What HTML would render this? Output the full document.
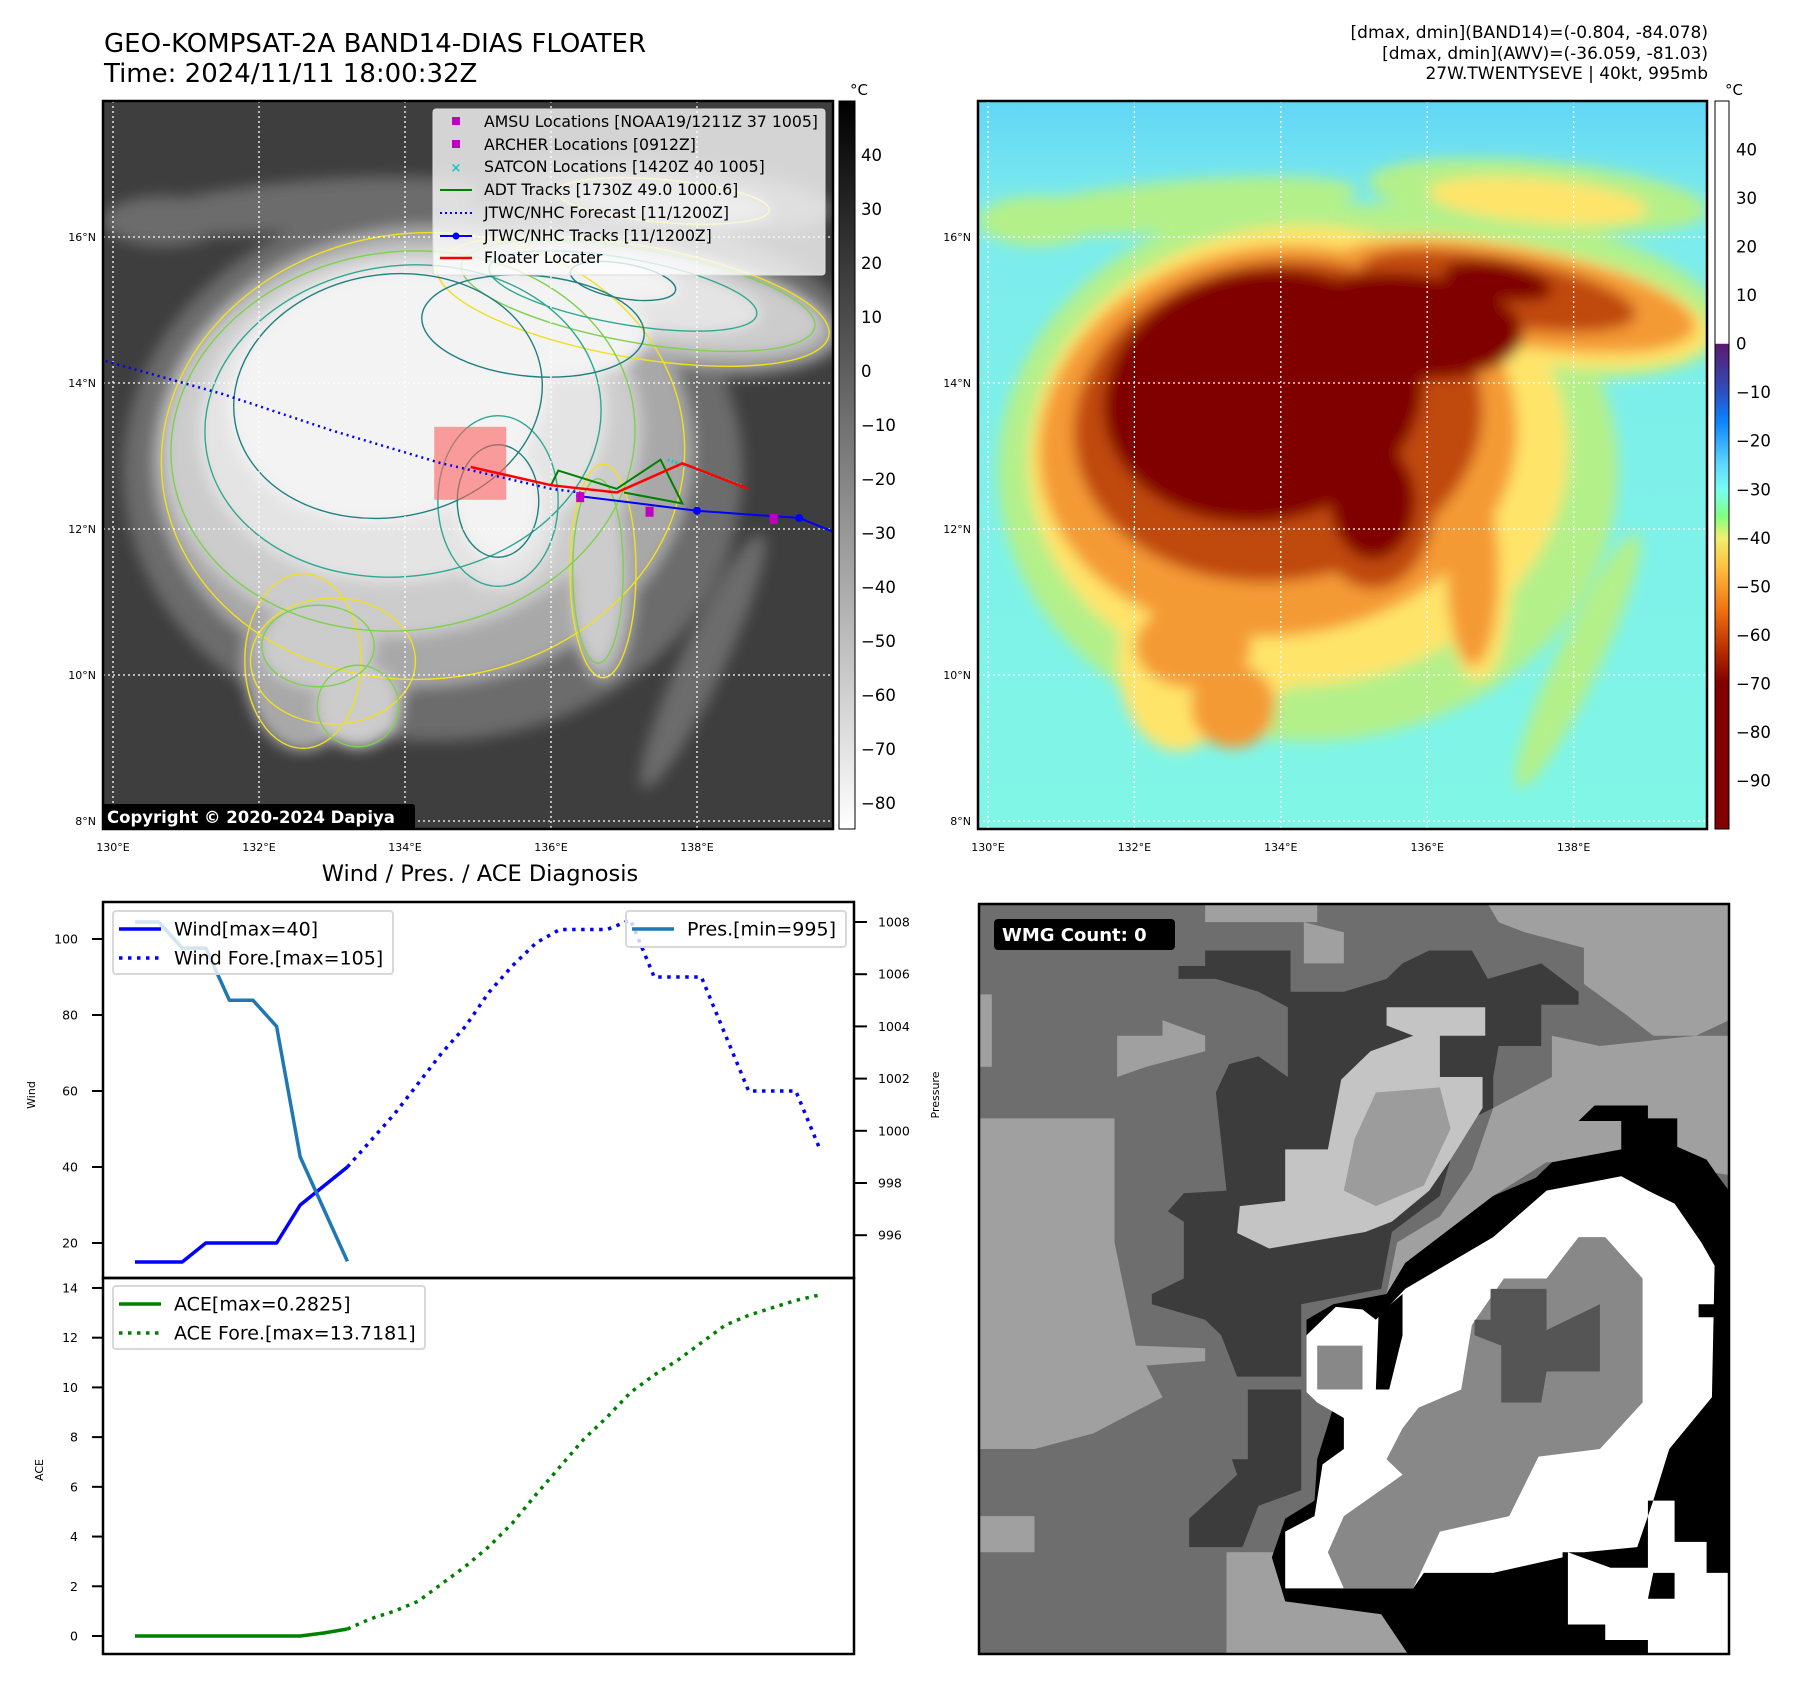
<!DOCTYPE html>
<html><head><meta charset="utf-8"><style>
html,body{margin:0;padding:0;background:#fff;}
svg{display:block;font-family:"DejaVu Sans","Liberation Sans",sans-serif;}
</style></head><body>
<svg id="root" width="1797" height="1690" viewBox="0 0 1797 1690" xmlns="http://www.w3.org/2000/svg">
<defs>
 <filter id="blur8" x="-20%" y="-20%" width="140%" height="140%"><feGaussianBlur stdDeviation="7"/></filter>
 <clipPath id="clipL"><rect x="103" y="101" width="730" height="728"/></clipPath>
 <clipPath id="clipR"><rect x="978" y="101" width="729" height="728"/></clipPath>
 <clipPath id="clipW"><rect x="979" y="904" width="750" height="750"/></clipPath>
 <linearGradient id="cbL" x1="0" y1="0" x2="0" y2="1"><stop offset="0" stop-color="#000"/><stop offset="1" stop-color="#fff"/></linearGradient>
 <linearGradient id="cbR" x1="0" y1="0" x2="0" y2="1">
  <stop offset="0" stop-color="#fff"/><stop offset="0.333" stop-color="#fff"/>
  <stop offset="0.334" stop-color="#5c1a6e"/><stop offset="0.4" stop-color="#2c50c0"/>
  <stop offset="0.44" stop-color="#0a84ff"/><stop offset="0.5" stop-color="#60d8ff"/>
  <stop offset="0.535" stop-color="#78fff0"/><stop offset="0.57" stop-color="#80ff80"/>
  <stop offset="0.6" stop-color="#f0f070"/><stop offset="0.64" stop-color="#ffc040"/>
  <stop offset="0.7" stop-color="#f07010"/><stop offset="0.76" stop-color="#b02800"/>
  <stop offset="0.8" stop-color="#800000"/><stop offset="1" stop-color="#800000"/>
 </linearGradient>
 <linearGradient id="rbg" x1="0" y1="0" x2="0" y2="1"><stop offset="0" stop-color="#62d6f6"/><stop offset="0.15" stop-color="#7cecec"/><stop offset="1" stop-color="#80f6e6"/></linearGradient>
</defs>

<text x="104" y="52" font-size="26" fill="#000">GEO-KOMPSAT-2A BAND14-DIAS FLOATER</text>
<text x="104" y="82" font-size="26" fill="#000">Time: 2024/11/11 18:00:32Z</text>
<g font-size="17" text-anchor="end" fill="#000">
 <text x="1708" y="38">[dmax, dmin](BAND14)=(-0.804, -84.078)</text>
 <text x="1708" y="59">[dmax, dmin](AWV)=(-36.059, -81.03)</text>
 <text x="1708" y="79">27W.TWENTYSEVE | 40kt, 995mb</text>
</g>

<!-- left map -->
<g id="mapL" clip-path="url(#clipL)">
 <rect x="103" y="101" width="730" height="728" fill="#3e3e3e"/>
 <g id="blobsL" filter="url(#blur8)"></g>
 <g id="contL" fill="none" stroke-width="1.4"></g>
 <g id="gridL" stroke="#fff" stroke-width="1.3" stroke-dasharray="2,3"></g>
 <g id="tracks"></g>
</g>
<rect x="103" y="101" width="730" height="728" fill="none" stroke="#000" stroke-width="2.5"/>
<g>
 <rect x="433" y="109" width="392" height="166" rx="3" fill="#fff" fill-opacity="0.78" stroke="#ddd"/>
 <rect x="452" y="117" width="8" height="8" fill="#c000c0"/>
 <rect x="452" y="140" width="8" height="8" fill="#c000c0"/>
 <text x="456" y="172" font-size="13" fill="#20c0c0" text-anchor="middle" font-weight="bold">×</text>
 <line x1="440" y1="190" x2="472" y2="190" stroke="#008000" stroke-width="2"/>
 <line x1="440" y1="213" x2="472" y2="213" stroke="#0000ff" stroke-width="2" stroke-dasharray="2,3"/>
 <line x1="440" y1="236" x2="472" y2="236" stroke="#0000ff" stroke-width="2"/><circle cx="456" cy="236" r="3.5" fill="#0000ff"/>
 <line x1="440" y1="258" x2="472" y2="258" stroke="#ff0000" stroke-width="2.5"/>
 <g font-size="15.7" fill="#000">
  <text x="484" y="127">AMSU Locations [NOAA19/1211Z 37 1005]</text>
  <text x="484" y="150">ARCHER Locations [0912Z]</text>
  <text x="484" y="172">SATCON Locations [1420Z 40 1005]</text>
  <text x="484" y="195">ADT Tracks [1730Z 49.0 1000.6]</text>
  <text x="484" y="218">JTWC/NHC Forecast [11/1200Z]</text>
  <text x="484" y="241">JTWC/NHC Tracks [11/1200Z]</text>
  <text x="484" y="263">Floater Locater</text>
 </g>
</g>
<g>
 <rect x="102" y="804" width="313" height="26" rx="3" fill="#000"/>
 <text x="107" y="823" font-size="16.5" font-weight="bold" fill="#fff">Copyright © 2020-2024 Dapiya</text>
</g>
<rect x="839" y="101" width="16" height="728" fill="url(#cbL)" stroke="#000" stroke-width="1"/>
<text x="850" y="95" font-size="15">°C</text>
<g id="cbLticks" font-size="16.5"></g>

<!-- right map -->
<g id="mapR" clip-path="url(#clipR)">
 <rect x="978" y="101" width="729" height="728" fill="url(#rbg)"/>
 <g id="blobsR" filter="url(#blur8)"></g>
 <g id="gridR" stroke="#fff" stroke-width="1.3" stroke-dasharray="2,3"></g>
</g>
<rect x="978" y="101" width="729" height="728" fill="none" stroke="#000" stroke-width="2.5"/>
<rect x="1715" y="101" width="14" height="728" fill="url(#cbR)" stroke="#000" stroke-width="1"/>
<text x="1725" y="95" font-size="15">°C</text>
<g id="cbRticks" font-size="16.5"></g>
<g id="axisLabels" font-size="11"></g>

<!-- diagnosis chart -->
<text x="480" y="881" font-size="22.5" text-anchor="middle">Wind / Pres. / ACE Diagnosis</text>
<g id="diag"></g>

<!-- WMG panel -->
<g clip-path="url(#clipW)">
<svg x="979" y="904" width="750" height="750" viewBox="36 45 1406 1452" preserveAspectRatio="none">
 <rect x="36" y="45" width="1406" height="1452" fill="#6e6e6e"/>
 <polygon fill="#a0a0a0" points="36,460 290,460 290,700 330,900 380,1000 250,1070 140,1100 36,1100"/>
 <polygon fill="#a0a0a0" points="36,220 60,220 60,360 36,360"/>
 <polygon fill="#a0a0a0" points="295,300 380,300 380,270 460,300 460,330 350,360 295,380"/>
 <polygon fill="#a0a0a0" points="460,45 670,45 670,80 460,80"/>
 <polygon fill="#a0a0a0" points="645,80 720,100 720,160 645,160"/>
 <polygon fill="#a0a0a0" points="990,45 1442,45 1442,270 1380,300 1300,300 1250,260 1170,200 1170,130 1060,100 1010,80"/>
 <polygon fill="#a0a0a0" points="500,1300 840,1300 840,1497 500,1497"/>
 <polygon fill="#a0a0a0" points="330,900 460,905 460,930 330,940"/>
 <polygon fill="#a0a0a0" points="800,800 820,700 900,650 960,560 1000,440 1110,380 1110,300 1200,320 1380,300 1442,300 1442,570 1300,545 1100,545 1000,610 835,740 835,800"/>
 <polygon fill="#a0a0a0" points="36,1230 140,1230 140,1300 36,1300"/>
 <polygon fill="#3c3c3c" points="410,165 460,165 460,135 620,135 620,215 720,215 800,190 830,160 880,135 960,135 990,190 1090,160 1160,215 1160,240 1090,240 1090,320 1010,320 1000,380 1000,440 960,460 920,540 900,610 810,680 790,790 640,820 640,960 520,960 490,880 460,850 360,820 360,800 420,770 420,660 390,640 420,605 500,600 480,410 505,355 560,340 615,380 615,245 560,215 480,190 410,190"/>
 <polygon fill="#3c3c3c" points="540,985 640,985 640,1180 560,1210 530,1290 430,1290 430,1235 520,1150 510,1120 540,1120"/>
 <polygon fill="#c4c4c4" points="800,245 985,245 985,300 900,300 900,380 980,380 980,440 920,540 880,600 810,660 760,680 580,712 520,682 525,630 610,620 610,520 690,520 715,385 770,330 850,300 800,280"/>
 <polygon fill="#9c9c9c" points="780,410 900,400 920,480 870,590 780,630 720,600 740,500"/>
 <polygon fill="#000" points="835,740 1000,610 1080,575 1110,545 1240,520 1240,465 1160,465 1190,435 1290,435 1290,460 1345,460 1345,515 1400,540 1420,570 1442,600 1442,1497 840,1497 790,1420 610,1395 585,1310 610,1235 665,1200 670,1120 700,1020 650,990 650,850 700,820 800,800"/>
 <polygon fill="#fff" points="650,880 705,825 755,830 780,850 835,790 1000,690 1100,600 1240,572 1290,600 1340,625 1390,700 1415,745 1410,1000 1330,1100 1300,1200 1270,1290 1170,1300 1140,1300 1140,1440 1210,1440 1210,1470 1290,1470 1290,1497 1442,1497 1442,1340 1400,1340 1400,1280 1340,1280 1340,1200 1290,1200 1290,1330 1220,1330 1140,1300 1080,1300 1080,1180 1130,1180 1130,1310 1000,1340 870,1340 850,1370 610,1370 610,1260 665,1230 680,1130 720,1100 720,1040 670,1010 650,990"/>
 <polygon fill="#888" points="860,1020 940,985 960,860 1020,770 1100,770 1160,690 1210,690 1280,770 1280,1010 1200,1100 1085,1115 1030,1230 900,1260 850,1370 720,1370 690,1300 720,1230 830,1150 800,1120 830,1060"/>
 <polygon fill="#888" points="670,900 755,900 755,985 670,985"/>
 <polygon fill="#555" points="995,790 1100,790 1100,870 1200,820 1200,950 1100,950 1090,1010 1015,1010 1015,900 965,880 965,850 995,850"/>
 <polygon fill="#000" points="785,840 830,800 830,880 805,985 780,985"/>
 <polygon fill="#000" points="1300,1340 1340,1340 1340,1390 1290,1390"/>
 <polygon fill="#000" points="1385,820 1442,820 1442,845 1385,845"/>
</svg>
</g>
<rect x="979" y="904" width="750" height="750" fill="none" stroke="#000" stroke-width="2.5"/>
<g>
 <rect x="994" y="919" width="181" height="31" rx="4" fill="#000"/>
 <text x="1002" y="941" font-size="18" font-weight="bold" fill="#fff">WMG Count: 0</text>
</g>
</svg>

<script>
// ---------- diagnosis chart data ----------
const windObs = [15,15,15,20,20,20,20,30,35,40];
const windFore = [40,47,54,62,70,77,86,93,99,102.5,102.5,102.5,105,90,90,90,75,60,60,60,45];
const presObs = [1008,1008,1007,1007,1005,1005,1004,999,997,995];
const aceObs = [0,0,0,0,0,0,0,0,0.12,0.2825];
const aceFore = [0.2825,0.7,1.0,1.4,2.1,2.8,3.6,4.55,5.7,6.8,7.9,8.8,9.8,10.5,11.1,11.8,12.5,12.9,13.2,13.5,13.7181];
const windTicks = [20,40,60,80,100];
const presTicks = [996,998,1000,1002,1004,1006,1008];
const aceTicks = [0,2,4,6,8,10,12,14];
const lonTicks = [130,132,134,136,138];
const latTicks = [8,10,12,14,16];
const cbLTicks = [40,30,20,10,0,-10,-20,-30,-40,-50,-60,-70,-80];
const cbRTicks = [40,30,20,10,0,-10,-20,-30,-40,-50,-60,-70,-80,-90];

const NS='http://www.w3.org/2000/svg';
function mk(tag, parent, attrs){const e=document.createElementNS(NS,tag);for(const k in attrs)e.setAttribute(k,attrs[k]);parent.appendChild(e);return e;}

// scales
const xT = i => 135 + i*23.6;
const yW = v => 939 - (v-100)*3.8;
const yP = v => 922 - (v-1008)*26.1;
const yA = v => 1636 - v*24.86;
const fx = i => xT(9+i);

const diag = document.getElementById('diag');
let f1 = mk('rect', diag, {x:103,y:902,width:751,height:376,fill:'none',stroke:'#000','stroke-width':2.5});


let f2 = mk('rect', diag, {x:103,y:1278,width:751,height:376,fill:'none',stroke:'#000','stroke-width':2.5});



windTicks.forEach(v=>{
  const y=yW(v);
  const t=mk('line',diag,{x1:92,y1:y,x2:103,y2:y,stroke:'#000','stroke-width':2});
  
  
  const l=mk('text',diag,{x:78,y:y+4.5,'font-size':12.5,'text-anchor':'end'});
  l.textContent=v;
  
  
});
presTicks.forEach(v=>{
  const y=yP(v);
  const t=mk('line',diag,{x1:854,y1:y,x2:867,y2:y,stroke:'#000','stroke-width':2});
  
  
  const l=mk('text',diag,{x:878,y:y+4.5,'font-size':12.5});
  l.textContent=v;
  
  
});
aceTicks.forEach(v=>{
  const y=yA(v);
  const t=mk('line',diag,{x1:92,y1:y,x2:103,y2:y,stroke:'#000','stroke-width':2});
  
  
  const l=mk('text',diag,{x:78,y:y+4.5,'font-size':12.5,'text-anchor':'end'});
  l.textContent=v;
  
  
});
let yl=mk('text',diag,{x:35,y:1095,'font-size':11,'text-anchor':'middle',transform:'rotate(-90 35 1095)'});
yl.textContent='Wind';


let pl=mk('text',diag,{x:939,y:1095,'font-size':11,'text-anchor':'middle',transform:'rotate(-90 939 1095)'});
pl.textContent='Pressure';


let al=mk('text',diag,{x:43,y:1470,'font-size':11,'text-anchor':'middle',transform:'rotate(-90 43 1470)'});
al.textContent='ACE';



function pts(arr, xf, yf){return arr.map((v,i)=>xf(i).toFixed(1)+','+yf(v).toFixed(1)).join(' ');}
let s;
s=mk('polyline',diag,{points:pts(windObs,xT,yW),fill:'none',stroke:'#0000ff','stroke-width':3.5,'stroke-linejoin':'round'});


s=mk('polyline',diag,{points:pts(windFore,fx,yW),fill:'none',stroke:'#0000ff','stroke-width':3.5,'stroke-dasharray':'3.5,5.5'});


s=mk('polyline',diag,{points:pts(presObs,xT,yP),fill:'none',stroke:'#1f77b4','stroke-width':3.5,'stroke-linejoin':'round'});


s=mk('polyline',diag,{points:pts(aceObs,xT,yA),fill:'none',stroke:'#008000','stroke-width':3.5});


s=mk('polyline',diag,{points:pts(aceFore,fx,yA),fill:'none',stroke:'#008000','stroke-width':3.5,'stroke-dasharray':'3.5,5.5'});



function legend(name,x,y,w,h,items){
  const g=mk('g',diag,{});
  
  
  mk('rect',g,{x:x,y:y,width:w,height:h,rx:3,fill:'#fff','fill-opacity':0.8,stroke:'#d8d8d8','stroke-width':2});
  items.forEach((it,i)=>{
    const cy=y+18+i*29;
    const ln=mk('line',g,{x1:x+6,y1:cy,x2:x+48,y2:cy,stroke:it[1],'stroke-width':3.5});
    if(it[2]) ln.setAttribute('stroke-dasharray','3.5,5.5');
    const t=mk('text',g,{x:x+61,y:cy+6.5,'font-size':19});
    t.textContent=it[0];
  });
}
legend('wind-legend',113,911,280,63,[['Wind[max=40]','#0000ff',false],['Wind Fore.[max=105]','#0000ff',true]]);
legend('pressure-legend',626,911,220,36,[['Pres.[min=995]','#1f77b4',false]]);
legend('ace-legend',113,1286,312,63,[['ACE[max=0.2825]','#008000',false],['ACE Fore.[max=13.7181]','#008000',true]]);

// ---------- maps ----------
const lonL = v => 113 + (v-130)*73;
const lonR = v => 988 + (v-130)*73.2;
const latY = v => 821 - (v-8)*73;
const axisLabels=document.getElementById('axisLabels');
const gridL=document.getElementById('gridL'), gridR=document.getElementById('gridR');
lonTicks.forEach(v=>{
  [[lonL,gridL,'left'],[lonR,gridR,'right']].forEach(([f,g,side])=>{
    const x=f(v);
    const gl=mk('line',g,{x1:x,y1:101,x2:x,y2:829});
    
    
    const t=mk('text',axisLabels,{x:x,y:851,'text-anchor':'middle'});
    t.textContent=v+'°E';
    
    
  });
});
latTicks.forEach(v=>{
  const y=latY(v);
  [[gridL,103,833,96,'left'],[gridR,978,1707,971,'right']].forEach(([g,x1,x2,lx,side])=>{
    const gl=mk('line',g,{x1:x1,y1:y,x2:x2,y2:y});
    
    
    const t=mk('text',axisLabels,{x:lx,y:y+4,'text-anchor':'end'});
    t.textContent=v+'°N';
    
    
  });
});
const cbLy = v => 101 + (50-v)/(50+84.8)*728;
const cbRy = v => 101 + (50-v)/150*728;
const cbL=document.getElementById('cbLticks'), cbR=document.getElementById('cbRticks');
cbLTicks.forEach(v=>{
  const y=cbLy(v);
  const t=mk('text',cbL,{x:861,y:y+6});
  t.textContent=(v<0?'−'+(-v):v);
  
  
});
cbRTicks.forEach(v=>{
  const y=cbRy(v);
  const t=mk('text',cbR,{x:1736,y:y+6});
  t.textContent=(v<0?'−'+(-v):v);
  
  
});

// cloud blobs (local map coords): cx,cy,rx,ry,rot
const lvl1=[[330,370,310,270,0],[520,190,230,80,10],[200,105,180,25,-5],[560,95,170,35,5],[600,560,22,140,25],[60,120,60,25,0]];
const lvl2=[[320,355,270,230,-5],[530,200,205,58,10],[230,560,85,65,0],[500,470,34,110,0],[200,560,60,90,0],[560,100,110,22,5]];
const lvl3=[[300,340,240,195,-8],[535,195,185,48,10],[215,545,58,42,0],[255,605,42,42,0],[495,470,26,95,0]];
const lvl4=[[300,320,205,160,-8],[520,190,140,34,10],[395,400,62,88,0]];
const lvl5=[[285,295,160,125,-10],[430,225,115,52,5],[395,400,42,58,0],[520,180,55,18,10]];
const levels=[lvl1,lvl2,lvl3,lvl4,lvl5];
const colR=['#b4f08a','#ffe46a','#f49a35','#c04a0c','#800000'];
const colL=['#6c6c6c','#a8a8a8','#cccccc','#e4e4e4','#f3f3f3'];
const contC=['#f0e020','#80d050','#30a890','#208080','#303888'];
const bL=document.getElementById('blobsL'), bR=document.getElementById('blobsR'), cL=document.getElementById('contL');
levels.forEach((lv,k)=>{
  lv.forEach(b=>{
    const [cx,cy,rx,ry,rot]=b;
    const aR=mk('ellipse',bR,{cx:978+cx,cy:101+cy,rx:rx,ry:ry,fill:colR[k],transform:`rotate(${rot} ${978+cx} ${101+cy})`});
    
    
    const aL=mk('ellipse',bL,{cx:103+cx,cy:101+cy,rx:rx,ry:ry,fill:colL[k],transform:`rotate(${rot} ${103+cx} ${101+cy})`});
    
    
    if(k>0){
      const c=mk('ellipse',cL,{cx:103+cx,cy:101+cy,rx:rx*0.97,ry:ry*0.97,stroke:contC[k-1],transform:`rotate(${rot} ${103+cx} ${101+cy})`});
      
      
    }
  });
});

// tracks (lon, lat)
const fcLon=[129.9,131.5,133.0,134.5,136.0,136.4];
const fcLat=[14.3,13.85,13.35,12.9,12.55,12.5];
const trLon=[136.4,138.0,139.4,139.9];
const trLat=[12.45,12.25,12.15,11.95];
const flLon=[134.9,136.0,136.9,137.8,138.7];
const flLat=[12.85,12.6,12.5,12.9,12.55];
const adtLon=[136.0,136.1,136.9,137.5,137.8,137.0];
const adtLat=[12.6,12.8,12.55,12.95,12.35,12.5];
const stLon=[137.6,138.6];
const stLat=[12.95,12.6];
const amLon=[136.4,137.35,139.05];
const amLat=[12.45,12.25,12.15];
const tr=document.getElementById('tracks');
function ll(lons,lats){return lons.map((v,i)=>lonL(v).toFixed(1)+','+latY(lats[i]).toFixed(1)).join(' ');}
let fr=mk('rect',tr,{x:lonL(134.4),y:latY(13.4),width:72,height:73,fill:'#ff6060','fill-opacity':0.6});


let p;
p=mk('polyline',tr,{points:ll(fcLon,fcLat),fill:'none',stroke:'#0000ff','stroke-width':2.5,'stroke-dasharray':'2,4'});


p=mk('polyline',tr,{points:ll(stLon,stLat),fill:'none',stroke:'#20c0c0','stroke-width':3,'stroke-dasharray':'2,2'});


p=mk('polyline',tr,{points:ll(adtLon,adtLat),fill:'none',stroke:'#008000','stroke-width':2});


p=mk('polyline',tr,{points:ll(trLon,trLat),fill:'none',stroke:'#0000ff','stroke-width':2});


trLon.slice(0,3).forEach((v,i)=>{
  const c=mk('circle',tr,{cx:lonL(v),cy:latY(trLat[i]),r:4,fill:'#0000ff'});
  
  
});
p=mk('polyline',tr,{points:ll(flLon,flLat),fill:'none',stroke:'#ff0000','stroke-width':2.5});


amLon.forEach((v,i)=>{
  const r=mk('rect',tr,{x:lonL(v)-4,y:latY(amLat[i])-4,width:8,height:10,fill:'#c000c0'});
  
  
});
</script>
</body></html>
